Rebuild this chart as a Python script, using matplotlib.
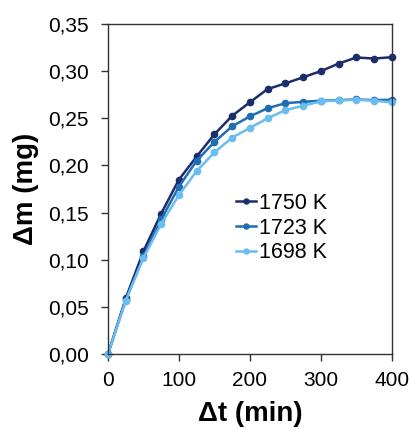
import matplotlib
matplotlib.use("Agg")
import matplotlib.pyplot as plt
from matplotlib.ticker import FuncFormatter

t_min = [0, 25, 50, 75, 100, 125, 150, 175, 200, 225, 250, 275, 300, 325, 350, 375, 400]
m_1750 = [0.0, 0.059, 0.109, 0.149, 0.185, 0.2095, 0.233, 0.2526, 0.267, 0.281, 0.287, 0.2935, 0.300, 0.308, 0.3145, 0.3134, 0.3148]
m_1723 = [0.0, 0.057, 0.1035, 0.1427, 0.1775, 0.205, 0.2249, 0.2415, 0.252, 0.2607, 0.266, 0.2675, 0.2686, 0.2693, 0.270, 0.2693, 0.2697]
m_1698 = [0.0, 0.0566, 0.102, 0.138, 0.1686, 0.194, 0.2138, 0.2295, 0.2398, 0.250, 0.2586, 0.2633, 0.2679, 0.269, 0.2697, 0.2686, 0.2671]
labels = ["1750 K", "1723 K", "1698 K"]
colors = ["#1b2d6b", "#1f6db3", "#69bdf0"]

plt.rcParams['font.family'] = ['Liberation Sans', 'DejaVu Sans']

fig = plt.figure(figsize=(4.10, 4.29), dpi=100)
ax = fig.add_axes([0.2634, 0.1748, 0.692, 0.7692])

for y, lab, c in zip([m_1750, m_1723, m_1698], labels, colors):
    ax.plot(t_min, y, '-o', color=c, lw=1.8, ms=4.5, label=lab, clip_on=False)

ax.set_xlim(0, 400)
ax.set_ylim(0, 0.35)
ax.set_xticks([0, 100, 200, 300, 400])
ax.set_yticks([0, 0.05, 0.10, 0.15, 0.20, 0.25, 0.30, 0.35])
ax.yaxis.set_major_formatter(FuncFormatter(lambda v, p: f"{v:.2f}".replace('.', ',')))
ax.tick_params(direction='out', length=5, width=1, labelsize=15, color='#333333')
ax.tick_params(axis='y', pad=9)
ax.tick_params(axis='x', pad=7)
for s in ax.spines.values():
    s.set_color('#333333')
    s.set_linewidth(1)

ax.set_xlabel("Δt (min)", fontsize=20, fontweight='bold', labelpad=8)
ax.set_ylabel("Δm (mg)", fontsize=20, fontweight='bold', labelpad=6)

leg = ax.legend(loc='upper left', bbox_to_anchor=(0.45, 0.488), frameon=False,
                fontsize=15.5, handlelength=0.95, handletextpad=0.15,
                labelspacing=0.17, borderpad=0, borderaxespad=0, markerscale=0.8)

fig.savefig("out.png", dpi=100, facecolor='white')
